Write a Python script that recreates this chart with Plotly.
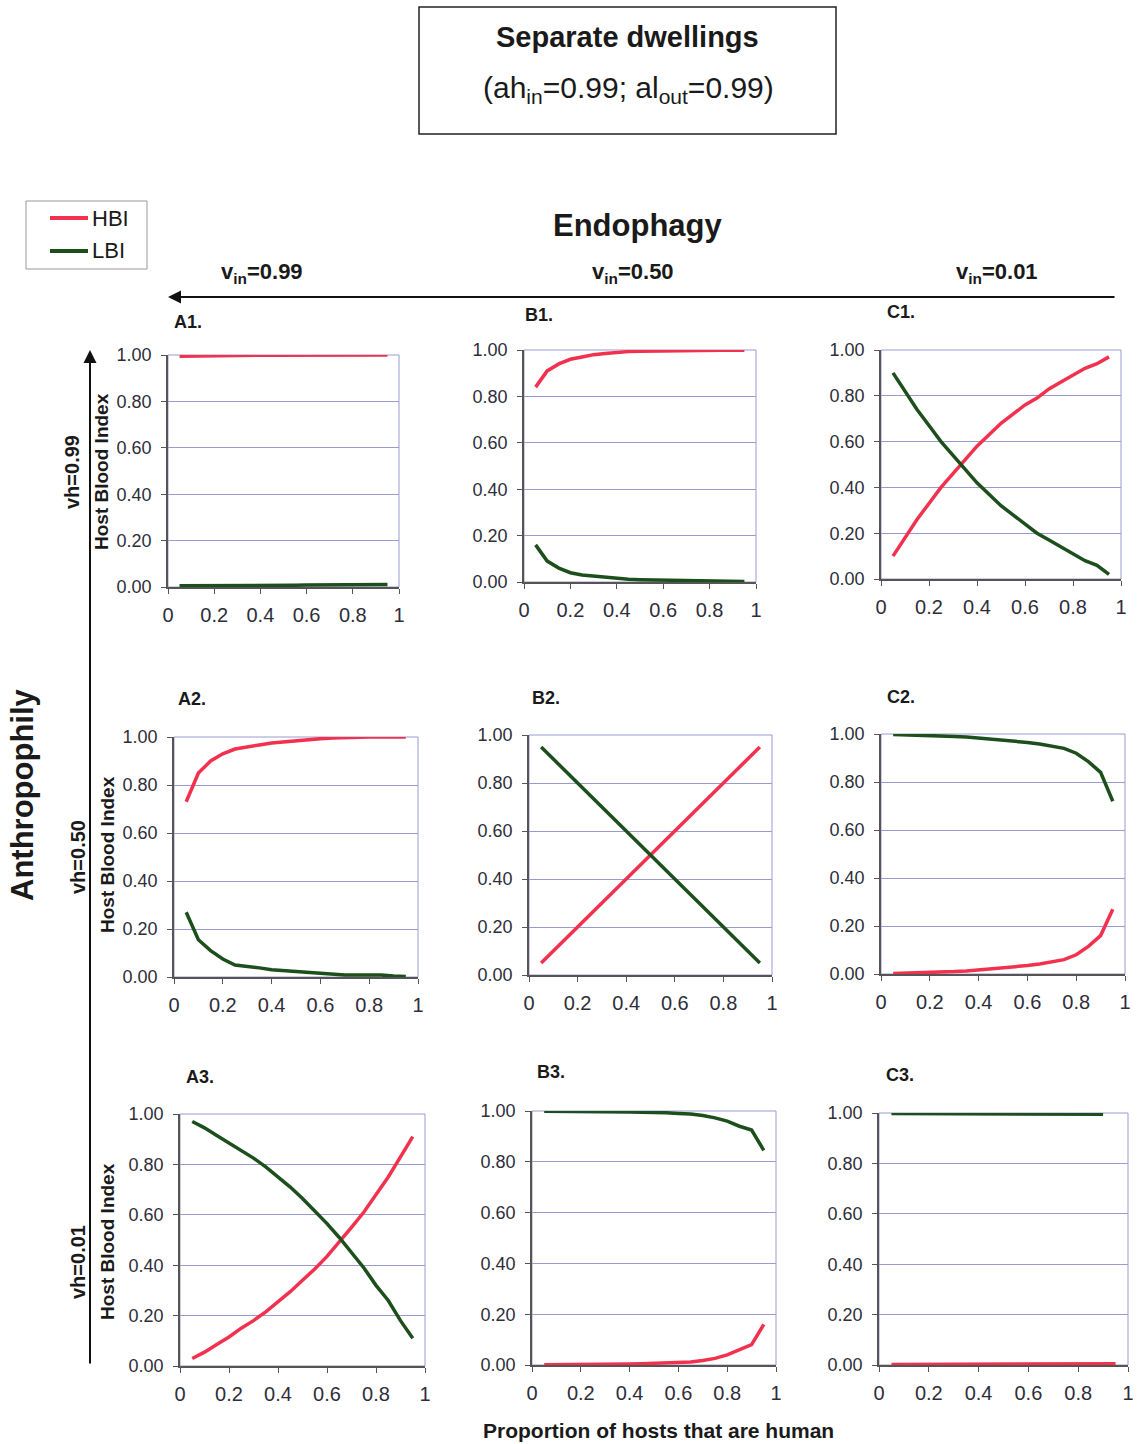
import plotly.graph_objects as go

W, H = 1139, 1444

# ---------------- data ----------------
prop_human = [0.05, 0.10, 0.15, 0.20, 0.25, 0.30, 0.35, 0.40, 0.45, 0.50,
              0.55, 0.60, 0.65, 0.70, 0.75, 0.80, 0.85, 0.90, 0.95]

hbi_A1 = [0.995, 0.996, 0.997, 0.997, 0.998, 0.998, 0.998, 0.999, 0.999, 0.999,
          0.999, 0.999, 0.999, 1.000, 1.000, 1.000, 1.000, 1.000, 1.000]
lbi_A1 = [0.005, 0.005, 0.006, 0.006, 0.006, 0.007, 0.007, 0.007, 0.008, 0.008,
          0.008, 0.009, 0.009, 0.009, 0.010, 0.010, 0.010, 0.011, 0.011]

hbi_B1 = [0.84, 0.91, 0.94, 0.96, 0.97, 0.98, 0.985, 0.99, 0.993, 0.995,
          0.996, 0.997, 0.997, 0.998, 0.998, 0.999, 0.999, 0.999, 0.999]
lbi_B1 = [0.16, 0.09, 0.06, 0.04, 0.03, 0.025, 0.02, 0.015, 0.012, 0.010,
          0.009, 0.008, 0.008, 0.007, 0.007, 0.004, 0.004, 0.003, 0.002]

hbi_C1 = [0.10, 0.18, 0.26, 0.33, 0.40, 0.46, 0.52, 0.58, 0.63, 0.68,
          0.72, 0.76, 0.79, 0.83, 0.86, 0.89, 0.92, 0.94, 0.97]
lbi_C1 = [0.90, 0.82, 0.74, 0.67, 0.60, 0.54, 0.48, 0.42, 0.37, 0.32,
          0.28, 0.24, 0.20, 0.17, 0.14, 0.11, 0.08, 0.06, 0.02]

hbi_A2 = [0.73, 0.85, 0.90, 0.93, 0.95, 0.96, 0.967, 0.975, 0.98, 0.985,
          0.99, 0.993, 0.996, 0.998, 0.999, 1.0, 1.0, 1.0, 1.0]
lbi_A2 = [0.27, 0.155, 0.11, 0.075, 0.05, 0.045, 0.038, 0.03, 0.026, 0.022,
          0.018, 0.014, 0.010, 0.008, 0.008, 0.008, 0.008, 0.004, 0.002]

hbi_B2 = [0.05, 0.10, 0.15, 0.20, 0.25, 0.30, 0.35, 0.40, 0.45, 0.50,
          0.55, 0.60, 0.65, 0.70, 0.75, 0.80, 0.85, 0.90, 0.95]
lbi_B2 = [0.95, 0.90, 0.85, 0.80, 0.75, 0.70, 0.65, 0.60, 0.55, 0.50,
          0.45, 0.40, 0.35, 0.30, 0.25, 0.20, 0.15, 0.10, 0.05]

hbi_C2 = [0.002, 0.003, 0.005, 0.007, 0.008, 0.010, 0.013, 0.017, 0.021, 0.025,
          0.030, 0.035, 0.042, 0.050, 0.060, 0.080, 0.115, 0.160, 0.27]
lbi_C2 = [0.998, 0.997, 0.995, 0.993, 0.992, 0.990, 0.987, 0.983, 0.979, 0.975,
          0.970, 0.965, 0.958, 0.950, 0.940, 0.920, 0.885, 0.840, 0.72]

hbi_A3 = [0.03, 0.055, 0.085, 0.115, 0.15, 0.18, 0.215, 0.255, 0.295, 0.34,
          0.385, 0.435, 0.49, 0.55, 0.61, 0.68, 0.75, 0.83, 0.91]
lbi_A3 = [0.97, 0.945, 0.915, 0.885, 0.855, 0.825, 0.79, 0.75, 0.71, 0.665,
          0.615, 0.565, 0.51, 0.45, 0.39, 0.32, 0.26, 0.18, 0.11]

hbi_B3 = [0.001, 0.001, 0.002, 0.002, 0.003, 0.003, 0.004, 0.004, 0.005, 0.006,
          0.008, 0.010, 0.012, 0.018, 0.026, 0.040, 0.060, 0.080, 0.16]
lbi_B3 = [0.999, 0.999, 0.998, 0.998, 0.997, 0.997, 0.996, 0.996, 0.995, 0.995,
          0.993, 0.990, 0.988, 0.982, 0.973, 0.960, 0.940, 0.925, 0.845]

hbi_C3 = [0.002, 0.002, 0.002, 0.002, 0.002, 0.002, 0.002, 0.002, 0.002, 0.002,
          0.002, 0.002, 0.002, 0.002, 0.002, 0.002, 0.002, 0.003, 0.005]
lbi_C3 = [0.998, 0.998, 0.998, 0.998, 0.998, 0.998, 0.997, 0.997, 0.997, 0.997,
          0.997, 0.997, 0.996, 0.996, 0.996, 0.996, 0.996, 0.995, None]

panel_names = ["A1", "B1", "C1", "A2", "B2", "C2", "A3", "B3", "C3"]
hbi_series = [hbi_A1, hbi_B1, hbi_C1, hbi_A2, hbi_B2, hbi_C2, hbi_A3, hbi_B3, hbi_C3]
lbi_series = [lbi_A1, lbi_B1, lbi_C1, lbi_A2, lbi_B2, lbi_C2, lbi_A3, lbi_B3, lbi_C3]

x_tickvals = [0, 0.2, 0.4, 0.6, 0.8, 1]
x_ticktext = ["0", "0.2", "0.4", "0.6", "0.8", "1"]
y_tickvals = [0, 0.2, 0.4, 0.6, 0.8, 1.0]
y_ticktext = ["0.00", "0.20", "0.40", "0.60", "0.80", "1.00"]

vin_labels = ["v<sub>in</sub>=0.99", "v<sub>in</sub>=0.50", "v<sub>in</sub>=0.01"]
vh_labels = ["vh=0.99", "vh=0.50", "vh=0.01"]

# ---------------- layout geometry (pixels) ----------------
boxes = [
    (168, 399, 355, 587), (524, 756, 350, 582), (881, 1121, 350, 579),
    (174, 418, 737, 977), (529, 772, 735, 975), (881, 1125, 734, 974),
    (180, 425, 1114, 1366), (532, 776, 1111, 1365), (879, 1128, 1113, 1365),
]
label_pos = [(172, 322), (523, 315), (885, 312),
             (176, 699), (530, 698), (885, 697),
             (184, 1077), (535, 1072), (884, 1075)]

RED = "#f2314f"
GREEN = "#1d4f1d"
FONT = "Arial, Liberation Sans, sans-serif"
TXT = "#1a1a1a"
TICK = "#2e2e3a"

def px(x):
    return x / W

def py(y):
    return 1 - y / H

def text_ann(text, x, y, size, xanchor="center", angle=0, bold=False):
    t = f"<b>{text}</b>" if bold else text
    return dict(text=t, x=px(x), y=py(y), xref="paper", yref="paper",
                xanchor=xanchor, yanchor="middle", showarrow=False,
                textangle=angle, font=dict(family=FONT, size=size, color=TXT))

fig = go.Figure()
shapes = []
annotations = []

for i, name in enumerate(panel_names):
    x0, x1, yt, yb = boxes[i]
    xa = "x" if i == 0 else f"x{i+1}"
    ya = "y" if i == 0 else f"y{i+1}"
    fig.add_trace(go.Scatter(x=prop_human, y=hbi_series[i], mode="lines",
                             line=dict(color=RED, width=3.5), name="HBI",
                             showlegend=False, xaxis=xa, yaxis=ya,
                             connectgaps=False))
    fig.add_trace(go.Scatter(x=prop_human, y=lbi_series[i], mode="lines",
                             line=dict(color=GREEN, width=3.5), name="LBI",
                             showlegend=False, xaxis=xa, yaxis=ya,
                             connectgaps=False))
    xkey = "xaxis" if i == 0 else f"xaxis{i+1}"
    ykey = "yaxis" if i == 0 else f"yaxis{i+1}"
    fig.layout[xkey] = dict(
        domain=[px(x0), px(x1)], anchor=ya, range=[0, 1],
        tickvals=x_tickvals, ticktext=x_ticktext, ticks="outside", ticklen=5,
        tickcolor="#555", showgrid=False, zeroline=False,
        showline=True, linecolor="#555", linewidth=1.5, automargin=False,
        tickfont=dict(family=FONT, size=20, color=TICK),
        ticklabelstandoff=4, fixedrange=True,
    )
    fig.layout[ykey] = dict(
        domain=[py(yb), py(yt)], anchor=xa, range=[0, 1],
        tickvals=y_tickvals, ticktext=y_ticktext, ticks="outside", ticklen=5,
        tickcolor="#555", showgrid=True, gridcolor="#9a9acd", gridwidth=1,
        zeroline=False, showline=True, linecolor="#555", linewidth=1.5,
        automargin=False,
        tickfont=dict(family=FONT, size=18, color=TICK),
        ticklabelstandoff=6, fixedrange=True,
    )
    shapes.append(dict(type="rect", xref=f"{xa} domain", yref=f"{ya} domain",
                       x0=0, x1=1, y0=0, y1=1,
                       line=dict(color="#9a9acd", width=1), layer="below"))
    lx, ly = label_pos[i]
    annotations.append(text_ann(f"{name}.", lx, ly, 18, xanchor="left", bold=True))

# Title box
shapes.append(dict(type="rect", xref="paper", yref="paper",
                   x0=px(419), x1=px(836), y0=py(134), y1=py(7),
                   line=dict(color="#222", width=1.5)))
annotations.append(text_ann("Separate dwellings", 627, 37, 29, bold=True))
annotations.append(text_ann("(ah<sub>in</sub>=0.99; al<sub>out</sub>=0.99)",
                            628, 89, 30))

# Legend box
shapes.append(dict(type="rect", xref="paper", yref="paper",
                   x0=px(26), x1=px(147), y0=py(269), y1=py(201),
                   line=dict(color="#999", width=1)))
shapes.append(dict(type="line", xref="paper", yref="paper",
                   x0=px(50), x1=px(88), y0=py(218), y1=py(218),
                   line=dict(color=RED, width=4)))
shapes.append(dict(type="line", xref="paper", yref="paper",
                   x0=px(50), x1=px(88), y0=py(251), y1=py(251),
                   line=dict(color=GREEN, width=4)))
annotations.append(text_ann("HBI", 90, 218, 22, xanchor="left"))
annotations.append(text_ann("LBI", 90, 251, 22, xanchor="left"))

# Endophagy header and arrow
annotations.append(text_ann("Endophagy", 638, 226, 31, bold=True))
for lab, cx in zip(vin_labels, [262, 633, 997]):
    annotations.append(text_ann(lab, cx, 273, 22, bold=True))
annotations.append(dict(text="", x=px(168), y=py(297), xref="paper",
                        yref="paper", ax=1116 - 168, ay=0, showarrow=True,
                        arrowhead=2, arrowsize=1.3, arrowwidth=2,
                        arrowcolor="#111", standoff=0))

# Anthropophily arrow and labels
annotations.append(dict(text="", x=px(90), y=py(350), xref="paper",
                        yref="paper", ax=0, ay=1365 - 350, showarrow=True,
                        arrowhead=2, arrowsize=1.3, arrowwidth=2,
                        arrowcolor="#111", standoff=0))
annotations.append(text_ann("Anthropophily", 22, 795, 31, angle=-90, bold=True))
for lab, (cx, cy) in zip(vh_labels, [(72, 472), (78, 857), (78, 1262)]):
    annotations.append(text_ann(lab, cx, cy, 20, angle=-90, bold=True))
for cx, cy in [(101, 472), (108, 855), (107, 1242)]:
    annotations.append(text_ann("Host Blood Index", cx, cy, 19, angle=-90, bold=True))

annotations.append(text_ann("Proportion of hosts that are human", 658, 1430, 21,
                            bold=True))

fig.update_layout(width=W, height=H,
                  margin=dict(l=0, r=0, t=0, b=0, pad=0, autoexpand=False),
                  paper_bgcolor="white", plot_bgcolor="white",
                  shapes=shapes, annotations=annotations, showlegend=False)

fig.write_html("out.html",
               config={"displayModeBar": False},
               post_script="document.body.style.margin='0';"
                           "document.body.style.overflow='hidden';")
